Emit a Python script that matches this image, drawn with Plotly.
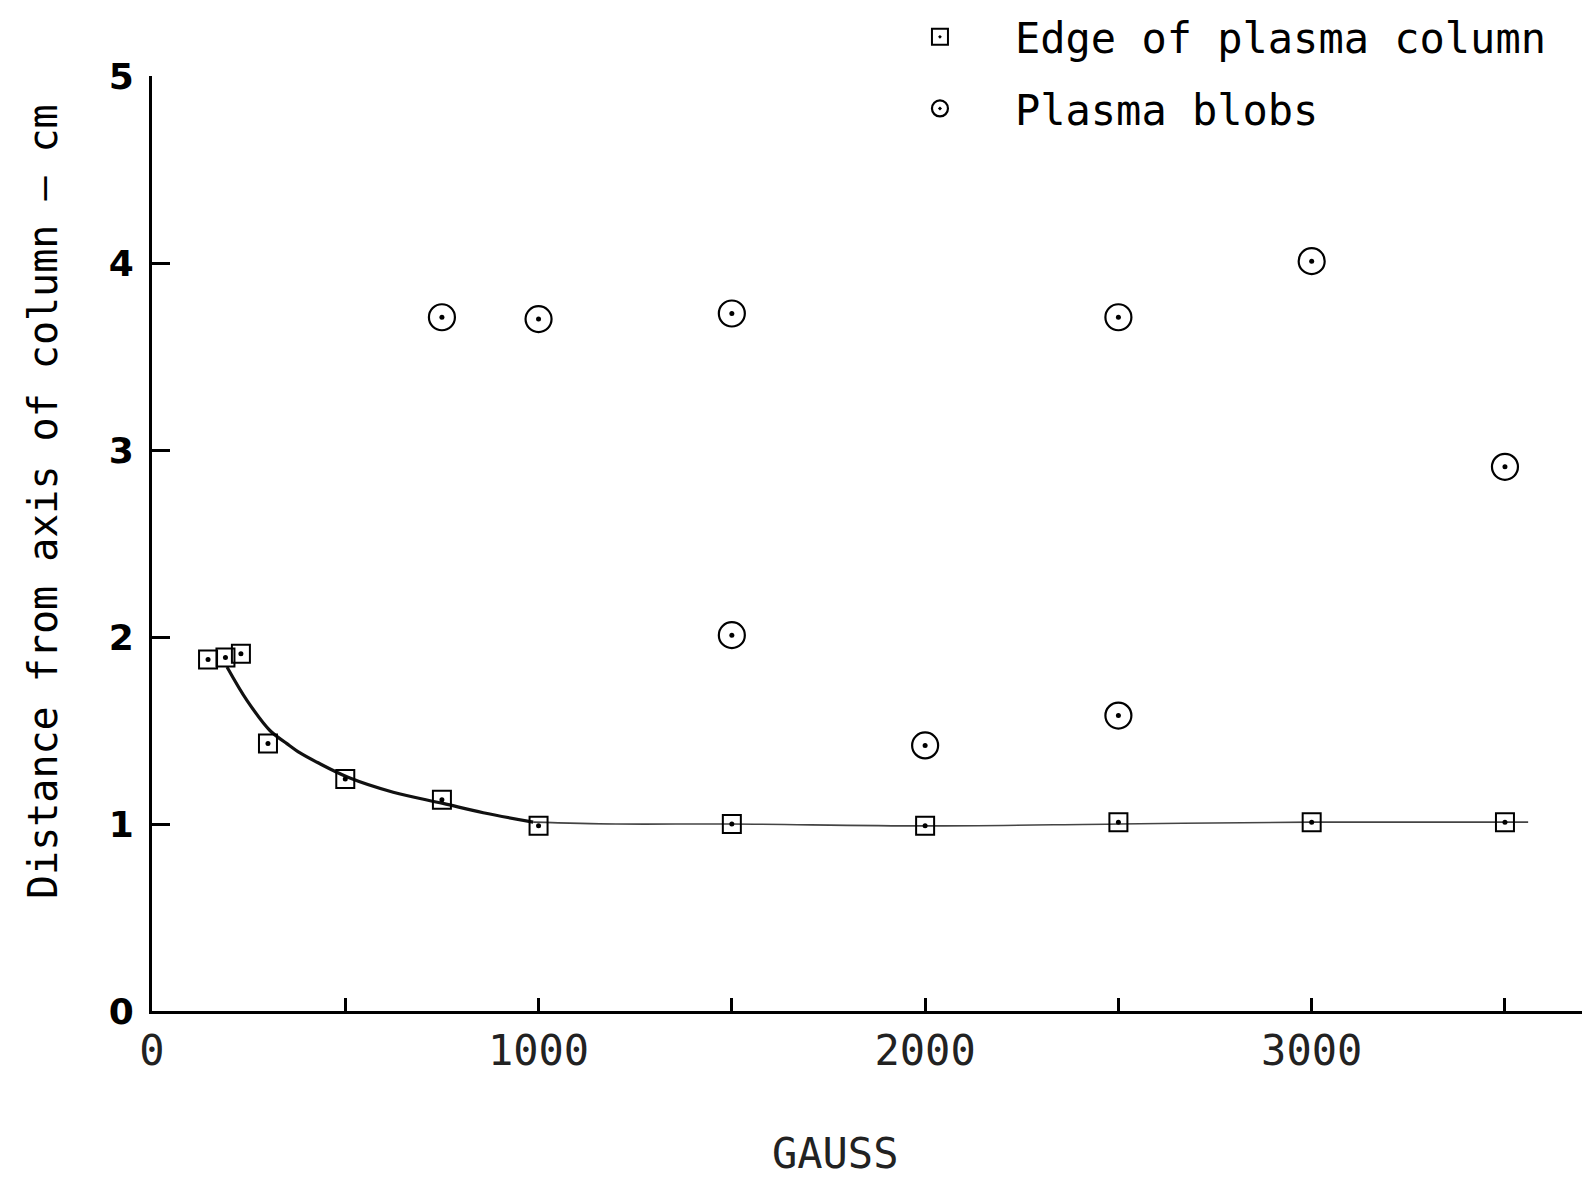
import plotly.graph_objects as go

# ---- data ----
edge_gauss = [145, 190, 230, 300, 500, 750, 1000, 1500, 2000, 2500, 3000, 3500]
edge_cm = [1.88, 1.89, 1.91, 1.43, 1.24, 1.13, 0.99, 1.00, 0.99, 1.01, 1.01, 1.01]

blob_gauss = [750, 1000, 1500, 1500, 2000, 2500, 2500, 3000, 3500]
blob_cm = [3.71, 3.70, 3.73, 2.01, 1.42, 3.71, 1.58, 4.01, 2.91]

curve_gauss_steep = [194, 246, 305, 349, 383, 427, 507, 624, 753, 857, 986]
curve_cm_steep = [1.84, 1.66, 1.50, 1.43, 1.38, 1.33, 1.25, 1.17, 1.11, 1.06, 1.01]
curve_gauss_flat = [986, 1200, 1500, 2000, 2500, 3000, 3560]
curve_cm_flat = [1.01, 1.00, 1.00, 0.99, 1.00, 1.01, 1.01]

x_tick_vals = [0, 500, 1000, 1500, 2000, 2500, 3000, 3500]
x_tick_text = ["0", "", "1000", "", "2000", "", "3000", ""]
y_tick_vals = [0, 1, 2, 3, 4, 5]
y_tick_text = ["0", "1", "2", "3", "4", "5"]

MONO = "DejaVu Sans Mono"

fig = go.Figure()

fig.add_trace(go.Scatter(
    x=curve_gauss_steep, y=curve_cm_steep, mode="lines",
    line=dict(color="#111", width=3.2, shape="spline"),
    showlegend=False, hoverinfo="skip"))
fig.add_trace(go.Scatter(
    x=curve_gauss_flat, y=curve_cm_flat, mode="lines",
    line=dict(color="#444", width=1.6, shape="spline"),
    showlegend=False, hoverinfo="skip"))

fig.add_trace(go.Scatter(
    x=edge_gauss, y=edge_cm, mode="markers", name="Edge of plasma column",
    legendgroup="a",
    marker=dict(symbol="square-open-dot", size=18, color="black",
                line=dict(color="black", width=2))))
fig.add_trace(go.Scatter(
    x=blob_gauss, y=blob_cm, mode="markers", name="Plasma blobs",
    legendgroup="b",
    marker=dict(symbol="circle-open-dot", size=26, color="black",
                line=dict(color="black", width=2.2))))
# centre dots of the markers
fig.add_trace(go.Scatter(
    x=edge_gauss + blob_gauss, y=edge_cm + blob_cm, mode="markers",
    marker=dict(symbol="circle", size=5, color="black"),
    showlegend=False, hoverinfo="skip"))

fig.update_layout(
    width=1590, height=1179,
    paper_bgcolor="white", plot_bgcolor="white",
    margin=dict(l=144, r=8, t=68, b=176, autoexpand=False),
    font=dict(family=MONO, color="black"),
    legend=dict(
        xref="paper", yref="paper",
        x=0.4958, y=1.078, xanchor="left", yanchor="top",
        bgcolor="rgba(0,0,0,0)", borderwidth=0,
        font=dict(family=MONO, size=42, color="black"),
        itemwidth=140, tracegroupgap=14, itemsizing="trace",
    ),
    xaxis=dict(
        range=[0, 3720], showgrid=False, zeroline=False,
        showline=True, linecolor="black", linewidth=2.5,
        ticks="inside", ticklen=13, tickwidth=2.5, tickcolor="black",
        tickvals=x_tick_vals, ticktext=x_tick_text,
        tickfont=dict(family=MONO, size=42, color="#222"),
        ticklabelstandoff=1,
    ),
    yaxis=dict(
        range=[0, 5], showgrid=False, zeroline=False,
        showline=True, linecolor="black", linewidth=3,
        ticks="inside", ticklen=18, tickwidth=2.5, tickcolor="black",
        tickvals=y_tick_vals, ticktext=y_tick_text,
        tickfont=dict(family="DejaVu Sans", size=36, color="black", weight="bold"),
        ticklabelstandoff=8,
    ),
    annotations=[
        dict(text="GAUSS", xref="paper", yref="paper",
             x=(835 - 152) / 1438, y=-(1153 - 1011) / 935,
             xanchor="center", yanchor="middle", showarrow=False,
             font=dict(family=MONO, size=42, color="#222")),
        dict(text="Distance from axis of column – cm", xref="paper", yref="paper",
             x=-(152 - 43) / 1438, y=(1011 - 502) / 935, textangle=-90,
             xanchor="center", yanchor="middle", showarrow=False,
             font=dict(family=MONO, size=40, color="black")),
    ],
)

fig.write_html("out.html")
